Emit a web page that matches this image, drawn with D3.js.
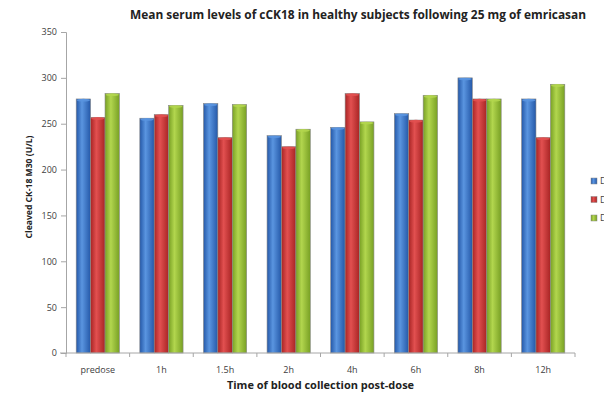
<!DOCTYPE html>
<html>
<head>
<meta charset="utf-8">
<script src="https://cdn.jsdelivr.net/npm/d3@7"></script>
<style>
  body { margin: 0; background: #fff; }
  svg text { font-family: "Open Sans", "Liberation Sans", sans-serif; }
</style>
</head>
<body>
<script>
// data
const categories = ["predose", "1h", "1.5h", "2h", "4h", "6h", "8h", "12h"];
const seriesNames = ["Day 1", "Day 2", "Day 3"];
const seriesA = [277, 256, 272, 237, 246, 261, 300, 277];
const seriesB = [257, 260, 235, 225, 283, 254, 277, 235];
const seriesC = [283, 270, 271, 244, 252, 281, 277, 293];
const yTicks = [0, 50, 100, 150, 200, 250, 300, 350];

const allSeries = [seriesA, seriesB, seriesC];
const colors = [
  { edge: "#2458a8", mid: "#5a95e0" },
  { edge: "#a82424", mid: "#e25050" },
  { edge: "#78a024", mid: "#b2d64e" }
];

const W = 604, H = 393;
const margin = { top: 32, right: 29, bottom: 40, left: 66 };
const width = W - margin.left - margin.right,
      height = H - margin.top - margin.bottom;

const svg = d3.select("body").append("svg")
    .attr("width", W)
    .attr("height", H);

// gradients for the shaded bars
const defs = svg.append("defs");
colors.forEach((c, i) => {
  const g = defs.append("linearGradient")
      .attr("id", "grad" + i)
      .attr("x1", "0%").attr("x2", "100%").attr("y1", "0%").attr("y2", "0%");
  g.append("stop").attr("offset", "0%").attr("stop-color", c.edge);
  g.append("stop").attr("offset", "40%").attr("stop-color", c.mid);
  g.append("stop").attr("offset", "100%").attr("stop-color", c.edge);
});

const chart = svg.append("g")
    .attr("transform", "translate(" + margin.left + "," + margin.top + ")");

var x = d3.scaleBand().domain(categories).range([0, width]).paddingInner(0.32).paddingOuter(0.16);
var xs = d3.scaleBand().domain(d3.range(3)).range([0, x.bandwidth()]);
var y = d3.scaleLinear().domain([0, 350]).range([height, 0]);

// y axis
const gy = chart.append("g")
    .call(d3.axisLeft(y).tickValues(yTicks).tickSize(5).tickPadding(4));
gy.select(".domain").attr("stroke", "#a6a6a6");
gy.selectAll(".tick line").attr("stroke", "#a6a6a6");
gy.selectAll(".tick text").attr("fill", "#404040").style("font-size", "9px");

// bars
allSeries.forEach((vals, s) => {
  chart.append("g").selectAll("rect")
    .data(vals)
    .join("rect")
      .attr("x", (d, i) => x(categories[i]) + xs(s))
      .attr("y", d => y(d))
      .attr("width", xs.bandwidth())
      .attr("height", d => y(0) - y(d))
      .attr("fill", "url(#grad" + s + ")")
      .attr("stroke", "#8a8a8a")
      .attr("stroke-width", 0.6);
  // light cap on top of each bar
  chart.append("g").selectAll("ellipse")
    .data(vals)
    .join("ellipse")
      .attr("cx", (d, i) => x(categories[i]) + xs(s) + xs.bandwidth() / 2)
      .attr("cy", d => y(d) + 1.2)
      .attr("rx", xs.bandwidth() / 2 - 0.6)
      .attr("ry", 1.4)
      .attr("fill", colors[s].mid)
      .attr("opacity", 0.9);
});

// x axis with ticks on the category boundaries
const gx = chart.append("g")
    .attr("transform", "translate(0," + height + ")");
gx.append("line")
    .attr("x1", -6).attr("x2", width)
    .attr("stroke", "#a6a6a6");
const step = width / categories.length;
gx.selectAll(".bt")
  .data(d3.range(categories.length + 1))
  .join("line")
    .attr("x1", d => d * step).attr("x2", d => d * step)
    .attr("y1", 0).attr("y2", 4)
    .attr("stroke", "#a6a6a6");
gx.selectAll(".lab")
  .data(categories)
  .join("text")
    .attr("x", d => x(d) + x.bandwidth() / 2)
    .attr("y", 20)
    .attr("text-anchor", "middle")
    .attr("fill", "#404040")
    .style("font-size", "9px")
    .text(d => d);

// shrink a text's font until it fits the given width
function fitText(sel, w) {
  let fs = parseFloat(sel.style("font-size"));
  while (sel.node().getComputedTextLength() > w && fs > 5) {
    fs -= 0.1;
    sel.style("font-size", fs + "px");
  }
}

// titles
const title = svg.append("text")
    .attr("x", 358)
    .attr("y", 19)
    .attr("text-anchor", "middle")
    .attr("font-weight", "bold")
    .attr("fill", "#222")
    .style("font-size", "14px")
    .text("Mean serum levels of cCK18 in healthy subjects following 25 mg of emricasan");
fitText(title, 460);

svg.append("text")
    .attr("x", margin.left + width / 2)
    .attr("y", 389)
    .attr("text-anchor", "middle")
    .attr("font-weight", "bold")
    .attr("fill", "#222")
    .style("font-size", "11px")
    .text("Time of blood collection post-dose");

const ylab = svg.append("text")
    .attr("transform", "translate(32,187) rotate(-90)")
    .attr("text-anchor", "middle")
    .attr("font-weight", "bold")
    .attr("fill", "#222")
    .style("font-size", "9px")
    .text("Cleaved CK-18 M30 (U/L)");
fitText(ylab, 104);

// legend (cut off at the right edge, as in the source)
const legend = svg.append("g").attr("transform", "translate(591,178)");
seriesNames.forEach((n, i) => {
  const row = legend.append("g").attr("transform", "translate(0," + (i * 18.5) + ")");
  row.append("rect")
    .attr("width", 6).attr("height", 6)
    .attr("fill", "url(#grad" + i + ")")
    .attr("stroke", "#8a8a8a").attr("stroke-width", 0.5);
  row.append("text")
    .attr("x", 9).attr("y", 6)
    .attr("fill", "#404040")
    .style("font-size", "9px")
    .text(n);
});
</script>
</body>
</html>
